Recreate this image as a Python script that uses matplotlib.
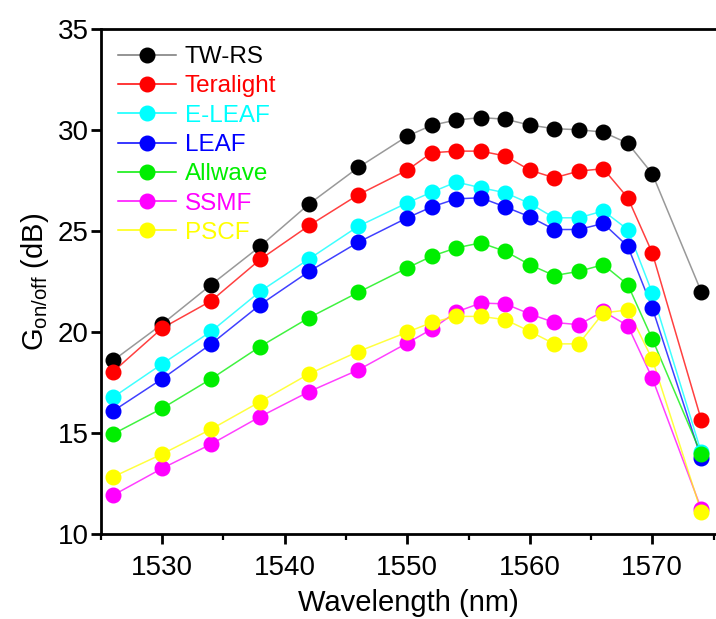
import matplotlib
matplotlib.use("Agg")
import matplotlib.pyplot as plt
from matplotlib.ticker import MultipleLocator

plt.rcParams["font.family"] = ["Liberation Sans", "DejaVu Sans"]
plt.rcParams["mathtext.default"] = "regular"

# Wavelength (nm)
WAVELENGTH = [1526, 1530, 1534, 1538, 1542, 1546, 1550, 1552, 1554, 1556,
              1558, 1560, 1562, 1564, 1566, 1568, 1570, 1574]

# On/off gain (dB) per fibre
TW_RS = [18.6, 20.4, 22.35, 24.25, 26.35, 28.15, 29.7, 30.24, 30.5, 30.62,
         30.54, 30.25, 30.07, 30.02, 29.9, 29.35, 27.84, 22.0]
TERALIGHT = [18.05, 20.2, 21.55, 23.6, 25.28, 26.8, 28.02, 28.88, 28.96, 28.96,
             28.72, 28.02, 27.64, 27.97, 28.09, 26.65, 23.92, 15.65]
E_LEAF = [16.78, 18.43, 20.04, 22.02, 23.63, 25.24, 26.4, 26.93, 27.43, 27.15,
          26.9, 26.37, 25.66, 25.66, 26.0, 25.08, 21.94, 14.05]
LEAF = [16.1, 17.69, 19.42, 21.36, 23.01, 24.45, 25.66, 26.2, 26.6, 26.65,
        26.2, 25.71, 25.08, 25.08, 25.38, 24.25, 21.2, 13.75]
ALLWAVE = [14.96, 16.23, 17.69, 19.29, 20.72, 21.97, 23.18, 23.76, 24.17, 24.42,
           24.0, 23.34, 22.8, 23.01, 23.34, 22.35, 19.66, 13.95]
SSMF = [11.93, 13.26, 14.46, 15.82, 17.06, 18.13, 19.46, 20.15, 21.0, 21.44,
        21.4, 20.9, 20.48, 20.37, 21.03, 20.32, 17.72, 11.25]
PSCF = [12.84, 13.97, 15.2, 16.56, 17.94, 19.04, 20.0, 20.48, 20.78, 20.78,
        20.62, 20.04, 19.42, 19.42, 20.95, 21.1, 18.66, 11.1]

SERIES = [
    ("TW-RS", TW_RS, "#000000"),
    ("Teralight", TERALIGHT, "#ff0000"),
    ("E-LEAF", E_LEAF, "#00ffff"),
    ("LEAF", LEAF, "#0000ff"),
    ("Allwave", ALLWAVE, "#00ee00"),
    ("SSMF", SSMF, "#ff00ff"),
    ("PSCF", PSCF, "#ffff00"),
]

fig = plt.figure(figsize=(7.16, 6.19), dpi=100)
ax = fig.add_axes([0.141, 0.137, 0.859, 0.816])

for name, vals, color in SERIES:
    line_color = "#777777" if color == "#000000" else color
    ax.plot(WAVELENGTH, vals, "-", color=line_color, lw=1.1, alpha=0.75, zorder=2)
    ax.plot(WAVELENGTH, vals, "o", color=color, ms=10.5, mec=color, zorder=3)

ax.set_xlim(1525, 1575.2)
ax.set_ylim(10, 35)
ax.xaxis.set_major_locator(MultipleLocator(10))
ax.xaxis.set_minor_locator(MultipleLocator(5))
ax.yaxis.set_major_locator(MultipleLocator(5))
ax.tick_params(which="major", direction="out", length=7, width=2, labelsize=20)
ax.tick_params(which="minor", direction="out", length=4, width=1.6)
ax.tick_params(axis="y", pad=2)
ax.tick_params(axis="x", pad=8)

for side in ("left", "bottom", "top"):
    ax.spines[side].set_linewidth(2)
ax.spines["right"].set_visible(False)

ax.set_xlabel("Wavelength (nm)", fontsize=21, labelpad=6)
ax.set_ylabel(r"G$_{on/off}$ (dB)", fontsize=21, labelpad=5)

# legend: marker + line handles, coloured text
handles = []
for name, vals, color in SERIES:
    line_color = "#777777" if color == "#000000" else color
    h, = ax.plot([], [], "-o", color=line_color, mfc=color, mec=color, ms=10.5, lw=1.1)
    handles.append(h)
leg = ax.legend(handles, [s[0] for s in SERIES], loc="upper left", frameon=False,
                fontsize=17.5, handlelength=2.4, handletextpad=0.35, labelspacing=0.3,
                borderaxespad=0.3, bbox_to_anchor=(0.0, 1.0))
for text, (_, _, color) in zip(leg.get_texts(), SERIES):
    text.set_color(color)

fig.savefig("out.png", dpi=100)
